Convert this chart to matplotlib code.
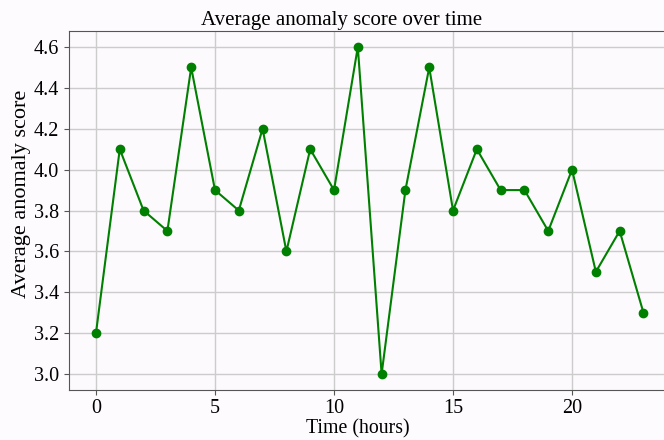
import matplotlib
matplotlib.use("Agg")
import matplotlib.pyplot as plt
from matplotlib.ticker import MultipleLocator

# hourly average anomaly score
hours = list(range(24))
scores = [3.2, 4.1, 3.8, 3.7, 4.5, 3.9, 3.8, 4.2, 3.6, 4.1, 3.9, 4.6,
          3.0, 3.9, 4.5, 3.8, 4.1, 3.9, 3.9, 3.7, 4.0, 3.5, 3.7, 3.3]

plt.rcParams['font.family'] = ['Liberation Serif', 'DejaVu Serif']

fig = plt.figure(figsize=(6.64, 4.40), dpi=100, facecolor='#fdfbfd')
# axes runs a little past the right edge, like the reference
ax = fig.add_axes([0.1033, 0.1127, 0.907, 0.8177], facecolor='#fdfafd')

ax.plot(hours, scores, marker='o', color='green', linewidth=1.5,
        markersize=6)

ax.yaxis.set_major_locator(MultipleLocator(0.2))
ax.xaxis.set_major_locator(MultipleLocator(5))

ax.set_title('Average anomaly score over time', fontsize=15, pad=4,
             x=0.453)
ax.set_xlabel('Time (hours)', fontsize=14.3)
ax.xaxis.set_label_coords(0.48, -0.079)
ax.set_ylabel('Average anomaly score', fontsize=16)
ax.yaxis.set_label_coords(-0.062, 0.546)
ax.tick_params(labelsize=14.5, color='#555555')
ax.tick_params(axis='x', pad=2.5)
ax.grid(True, color='#cccccc', linewidth=1.0)
ax.set_axisbelow(True)
for s in ax.spines.values():
    s.set_color('#555555')

plt.savefig('out.png', dpi=100, facecolor=fig.get_facecolor())
